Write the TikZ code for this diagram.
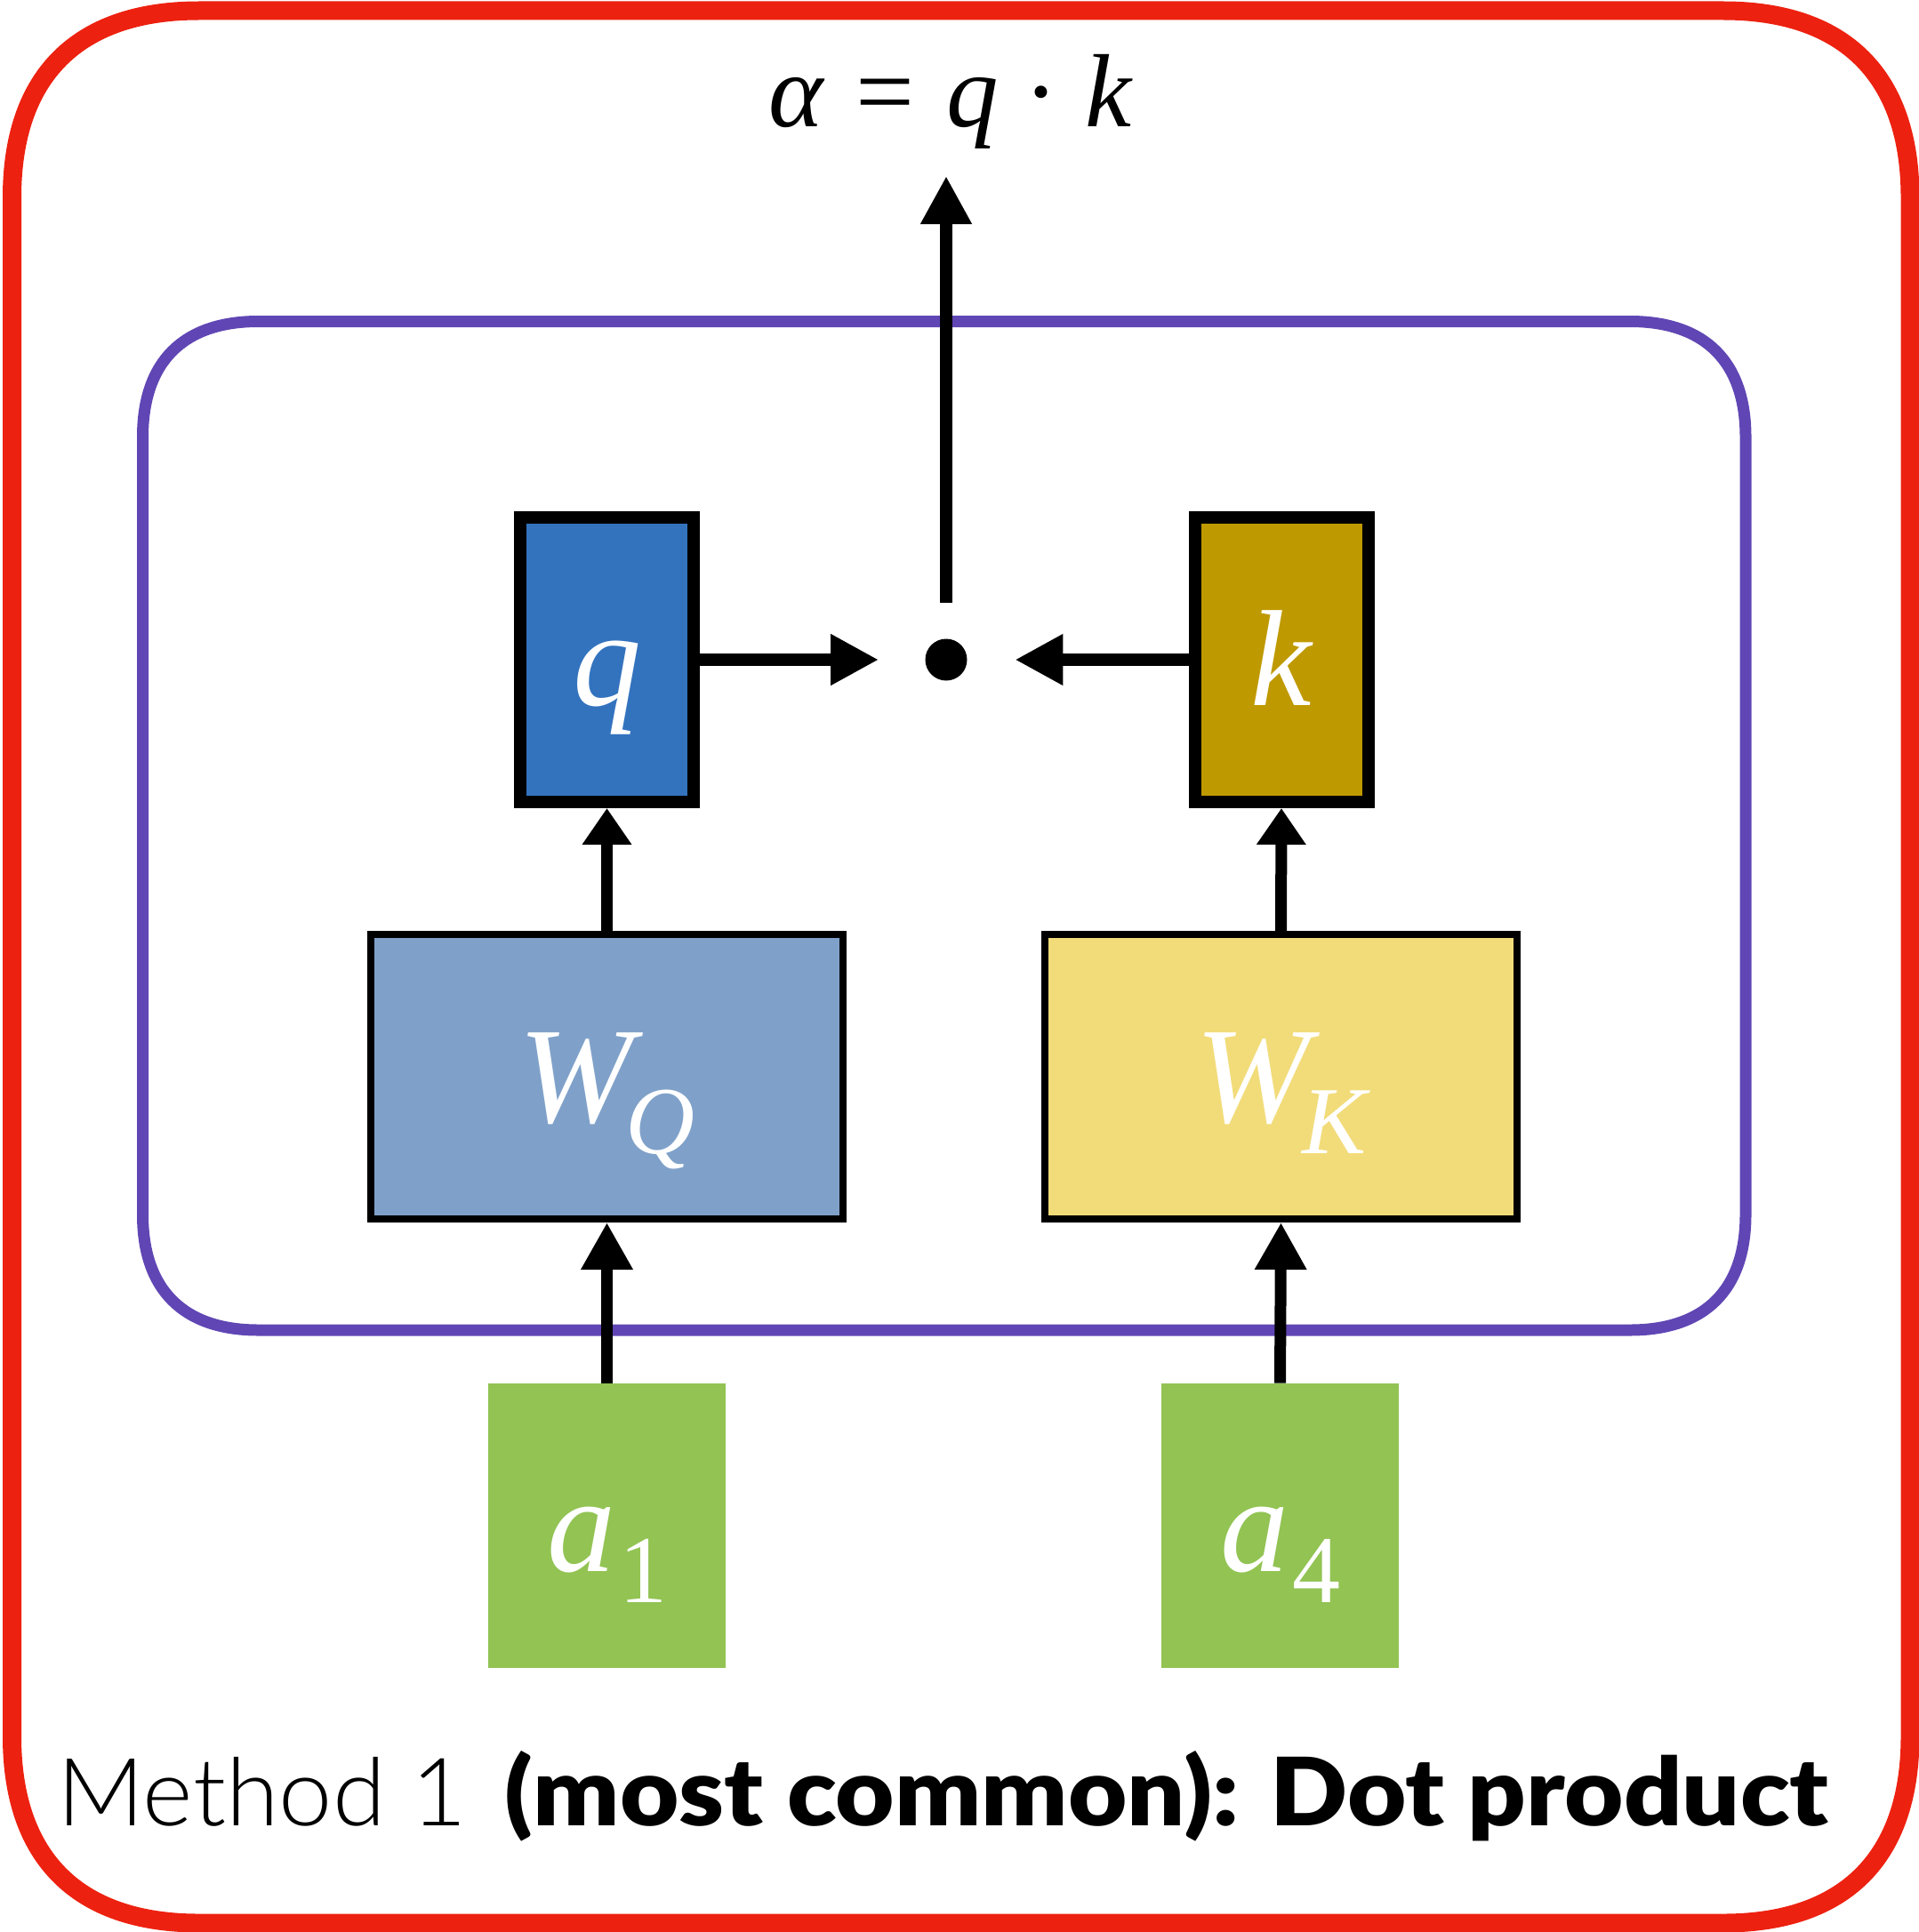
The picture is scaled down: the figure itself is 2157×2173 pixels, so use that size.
\documentclass[tikz,border=0pt]{standalone}
\usepackage{fontspec}
\setmainfont{Liberation Serif}
\newfontfamily\captionlight{Lato Light}
\newfontfamily\captionheavy{Lato Black}
\usetikzlibrary{arrows.meta}

\definecolor{framered}{RGB}{237,33,16}
\definecolor{groupviolet}{RGB}{96,70,180}
\definecolor{queryblue}{RGB}{51,115,190}
\definecolor{keygold}{RGB}{191,153,0}
\definecolor{wqblue}{RGB}{127,161,201}
\definecolor{wkyellow}{RGB}{242,220,122}
\definecolor{inputgreen}{RGB}{146,195,83}

% letters inside the boxes
\newcommand\boxletter[1]{{\fontsize{77}{77}\selectfont\itshape #1}}
\newcommand\boxsub[1]{\raisebox{-17.5pt}{\fontsize{54}{54}\selectfont #1}}

% rectangle with smooth (continuous) corners: x1, y1, x2, y2, corner extent
\newcommand\softrect[5]{%
  ({#1+#5},#2) -- ({#3-#5},#2)
  .. controls ({#3-0.35*#5},#2) and (#3,{#2+0.35*#5}) .. (#3,{#2+#5})
  -- (#3,{#4-#5})
  .. controls (#3,{#4-0.35*#5}) and ({#3-0.35*#5},#4) .. ({#3-#5},#4)
  -- ({#1+#5},#4)
  .. controls ({#1+0.35*#5},#4) and (#1,{#4-0.35*#5}) .. (#1,{#4-#5})
  -- (#1,{#2+#5})
  .. controls (#1,{#2+0.35*#5}) and ({#1+0.35*#5},#2) .. cycle}

\tikzset{
  labelled/.style={text=white, text height=51pt, text depth=0pt, inner sep=0pt},
  vecbox/.style={labelled, draw=black, line width=7pt,
    minimum width=97.5pt, minimum height=160pt},
  matbox/.style={labelled, draw=black, line width=4pt,
    minimum width=265.5pt, minimum height=160pt},
  inbox/.style={labelled, fill=inputgreen, minimum width=133.5pt, minimum height=160pt},
  longtip/.style={line width=7pt, -{Triangle[length=27pt, width=27pt]}},
  shorttip/.style={line width=6.5pt, -{Triangle[length=20.5pt, width=26.5pt]}},
  inputtip/.style={line width=6.5pt, -{Triangle[length=26.5pt, width=27.5pt]}},
}

\begin{document}
\begin{tikzpicture}[x=0.5pt, y=-0.5pt]
\useasboundingbox (0,0) rectangle (2157,2173);

% outer frame and projection group
\draw[framered, line width=10.5pt] \softrect{13.5}{12}{2148}{2163}{210};
\draw[groupviolet, line width=6.5pt] \softrect{160.5}{361.5}{1963}{1496}{130};

% query / key vectors
\node[vecbox, fill=queryblue] (q) at (682.5,742) {\boxletter{q}};
\node[vecbox, fill=keygold] (k) at (1441,742) {\boxletter{k}};

% projection matrices
\node[matbox, fill=wqblue] (wq) at (682.5,1211) {\boxletter{W}\kern-4pt\boxsub{\itshape Q}};
\node[matbox, fill=wkyellow] (wk) at (1440.5,1211) {\boxletter{W}\kern-4pt\boxsub{\itshape K}};

% inputs
\node[inbox] (a1) at (682.5,1716) {\boxletter{a}\kern2pt\boxsub{1}};
\node[inbox] (a4) at (1439.5,1716) {\boxletter{a}\kern2pt\boxsub{4}};

% dot product
\node[circle, fill=black, inner sep=0pt, minimum size=23.5pt] (dot) at (1064,742) {};
\node[anchor=base, inner sep=0pt, font=\fontsize{58.5}{58.5}\selectfont] (alpha) at (1069,142)
  {\textit{α}\kern3pt{} = \kern3pt\textit{q} · \textit{k}};
\coordinate (outtip) at (1064,198);

% connectors
\draw[inputtip] (a1.north) -- (wq.south);
\draw[inputtip] (a4.north) -- (wk.south);
\draw[shorttip] (wq.north) -- (q.south);
\draw[shorttip] (wk.north) -- (k.south);
\draw[longtip, shorten >=26pt] (q.east) -- (dot.west);
\draw[longtip, shorten >=26.75pt] (k.west) -- (dot.east);
\draw[longtip, shorten <=20pt] (dot.north) -- (outtip);

% caption
\node[anchor=base west, inner sep=0pt, font=\fontsize{53}{53}\selectfont] (caption) at (64,2053)
  {\scalebox{1.02}[1]{\captionlight Method 1}\hspace{21pt}\scalebox{1.08}[1]{\captionheavy (most common): Dot product}};
\end{tikzpicture}
\end{document}
